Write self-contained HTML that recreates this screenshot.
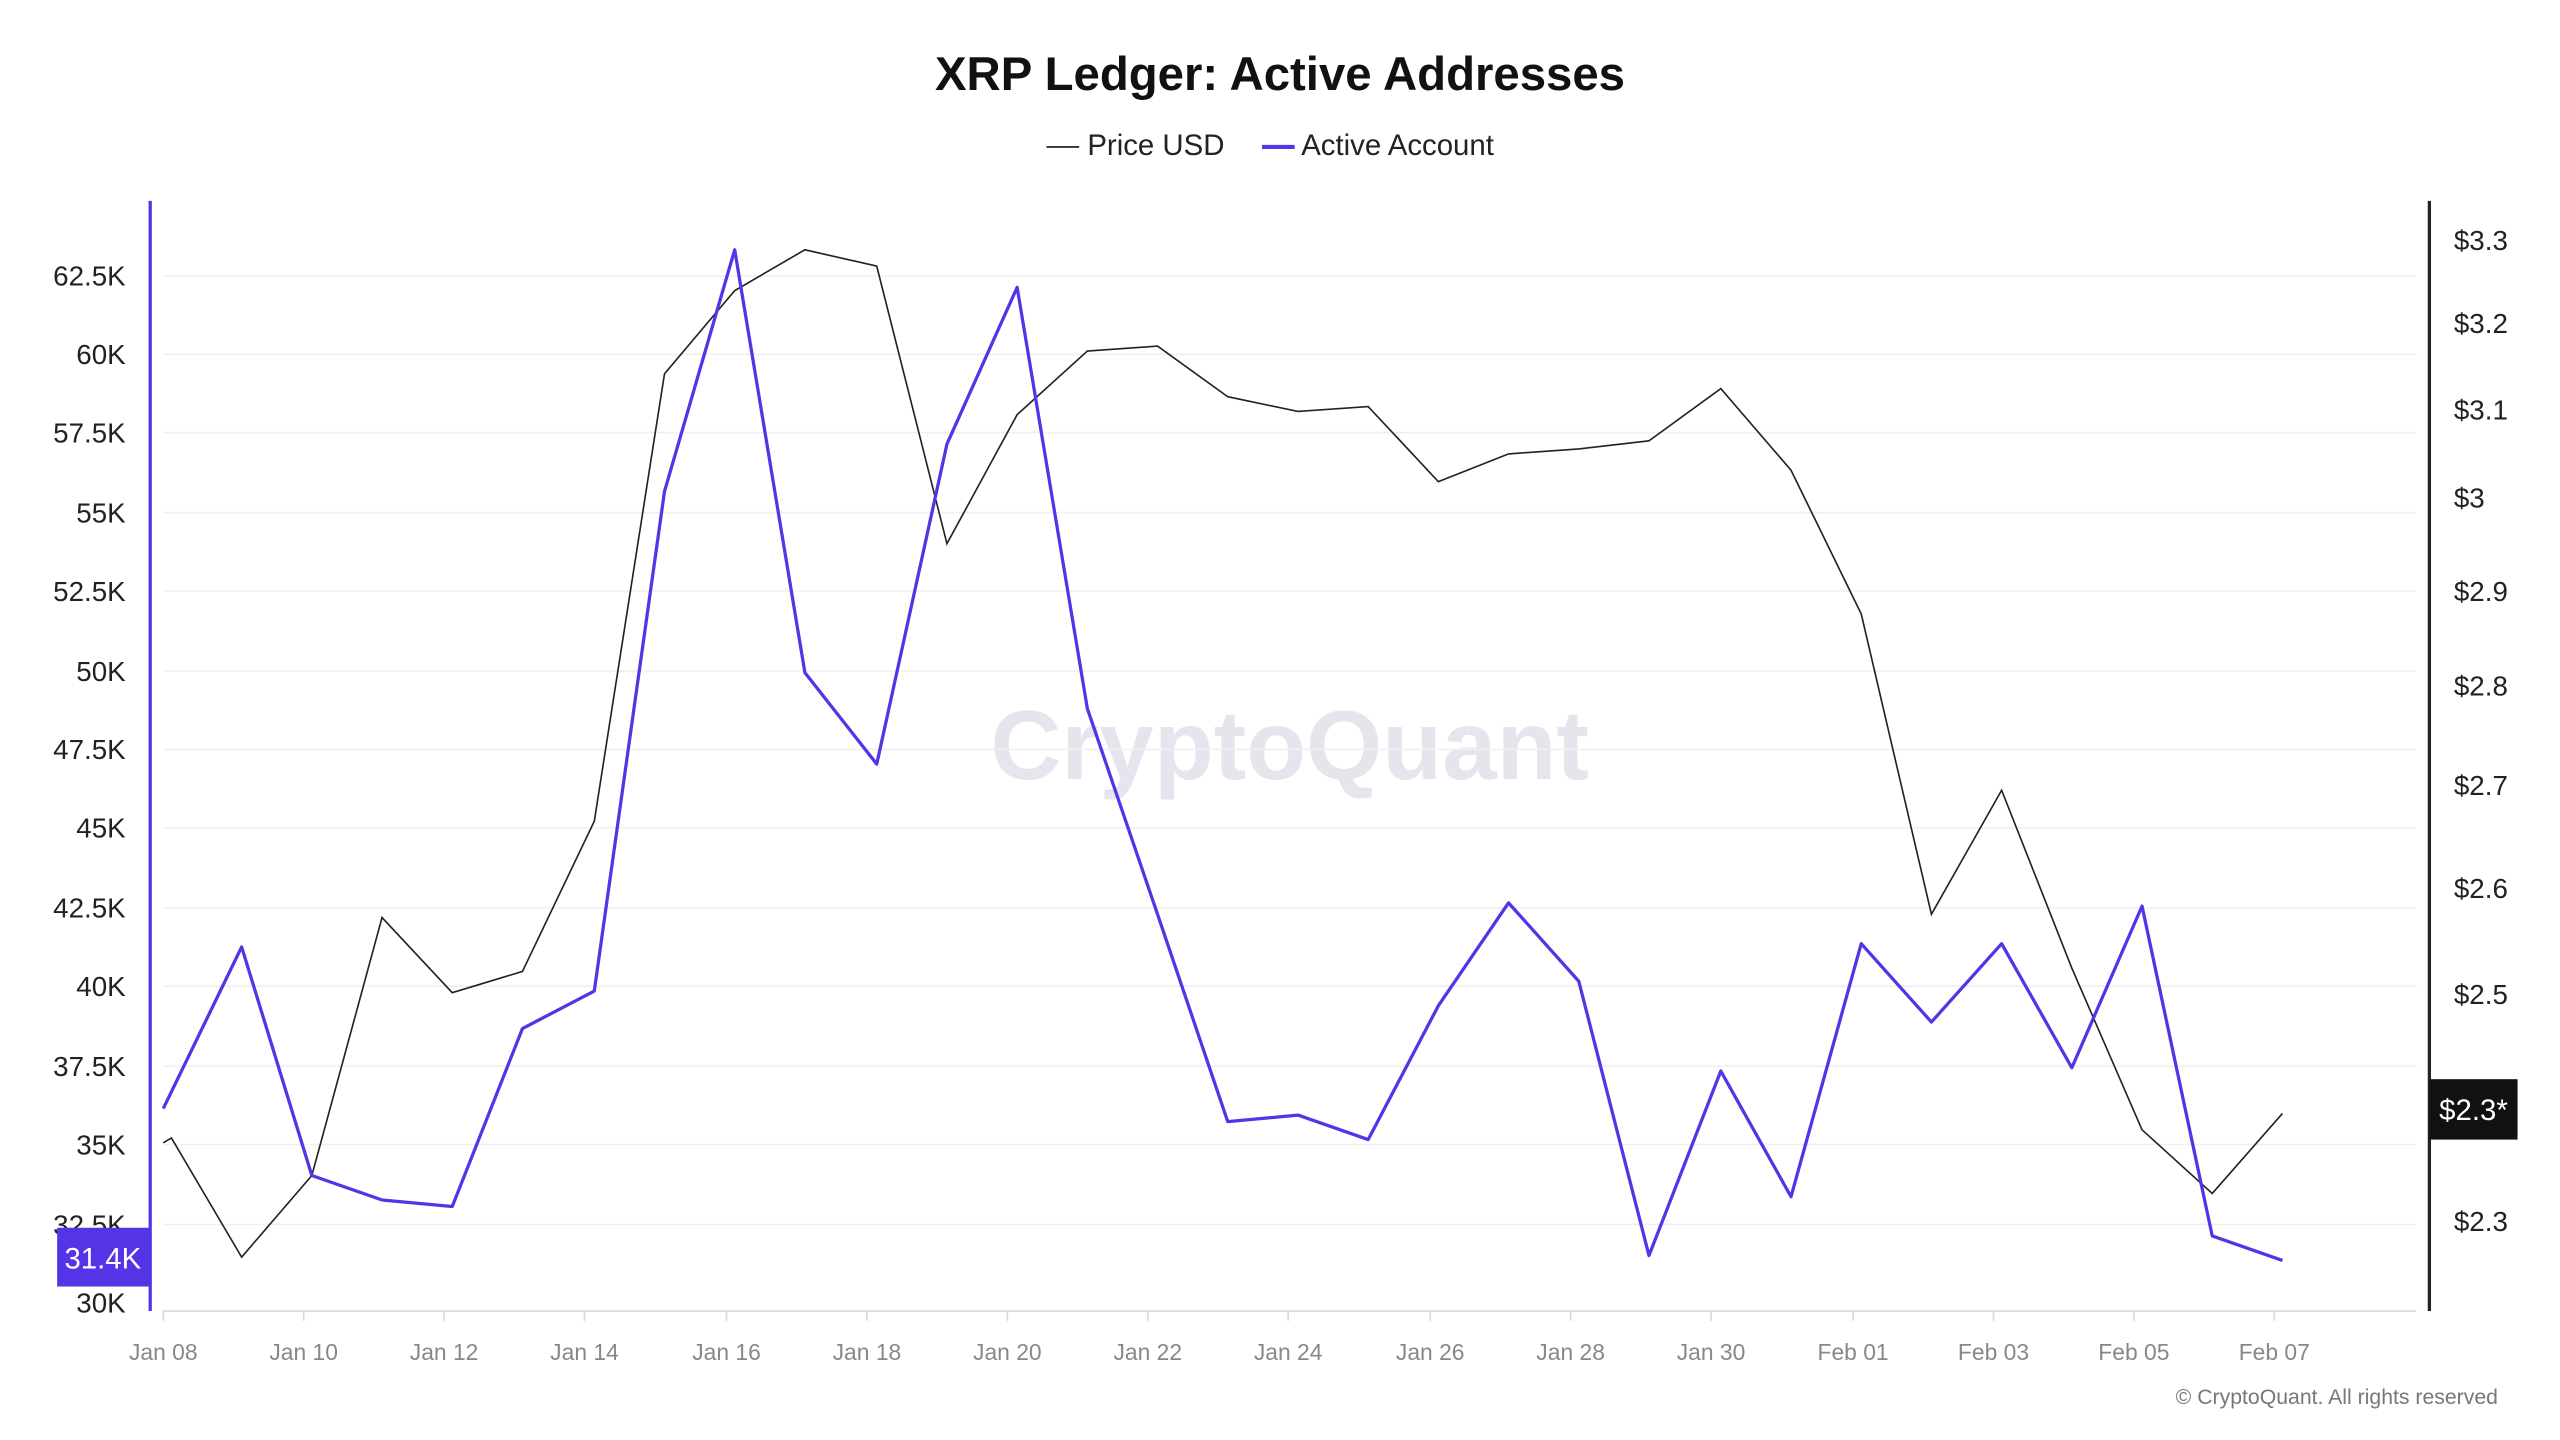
<!DOCTYPE html>
<html><head><meta charset="utf-8"><style>
html,body{margin:0;padding:0;background:#fff;}
svg{display:block;font-family:"Liberation Sans",sans-serif;}
</style></head><body>
<svg width="2560" height="1440" viewBox="0 0 1568 882" xmlns="http://www.w3.org/2000/svg">
<rect width="1568" height="882" fill="#fff"/>
<text x="784" y="55" text-anchor="middle" font-size="29" font-weight="bold" fill="#111">XRP Ledger: Active Addresses</text>
<line x1="641" y1="90" x2="661" y2="90" stroke="#333" stroke-width="1.2"/>
<text x="666" y="95" font-size="18" fill="#222">Price USD</text>
<line x1="773" y1="90" x2="793" y2="90" stroke="#5533e6" stroke-width="2.5"/>
<text x="797" y="95" font-size="18" fill="#222">Active Account</text>
<text x="790" y="477" text-anchor="middle" font-size="60" font-weight="bold" fill="#e6e5ed">CryptoQuant</text>
<g stroke="#f0f0f2" stroke-width="1">
<line x1="100" y1="169" x2="1480" y2="169"/><line x1="100" y1="217" x2="1480" y2="217"/>
<line x1="100" y1="265" x2="1480" y2="265"/><line x1="100" y1="314" x2="1480" y2="314"/>
<line x1="100" y1="362" x2="1480" y2="362"/><line x1="100" y1="411" x2="1480" y2="411"/>
<line x1="100" y1="459" x2="1480" y2="459"/><line x1="100" y1="507" x2="1480" y2="507"/>
<line x1="100" y1="556" x2="1480" y2="556"/><line x1="100" y1="604" x2="1480" y2="604"/>
<line x1="100" y1="653" x2="1480" y2="653"/><line x1="100" y1="701" x2="1480" y2="701"/>
<line x1="100" y1="750" x2="1480" y2="750"/>
</g>
<line x1="100" y1="803" x2="1480" y2="803" stroke="#d8d8e0" stroke-width="1"/>
<g fill="#222" font-size="17" text-anchor="end">
<text x="77" y="175">62.5K</text><text x="77" y="223">60K</text><text x="77" y="271">57.5K</text>
<text x="77" y="320">55K</text><text x="77" y="368">52.5K</text><text x="77" y="417">50K</text>
<text x="77" y="465">47.5K</text><text x="77" y="513">45K</text><text x="77" y="562">42.5K</text>
<text x="77" y="610">40K</text><text x="77" y="659">37.5K</text><text x="77" y="707">35K</text>
<text x="77" y="756">32.5K</text><text x="77" y="804">30K</text>
</g>
<g fill="#222" font-size="17">
<text x="1503" y="153">$3.3</text><text x="1503" y="204">$3.2</text><text x="1503" y="257">$3.1</text>
<text x="1503" y="311">$3</text><text x="1503" y="368">$2.9</text><text x="1503" y="426">$2.8</text>
<text x="1503" y="487">$2.7</text><text x="1503" y="550">$2.6</text><text x="1503" y="615">$2.5</text>
<text x="1503" y="754">$2.3</text>
</g>
<g fill="#888" font-size="14" text-anchor="middle">
<text x="100" y="833">Jan 08</text><text x="186" y="833">Jan 10</text><text x="272" y="833">Jan 12</text>
<text x="358" y="833">Jan 14</text><text x="445" y="833">Jan 16</text><text x="531" y="833">Jan 18</text>
<text x="617" y="833">Jan 20</text><text x="703" y="833">Jan 22</text><text x="789" y="833">Jan 24</text>
<text x="876" y="833">Jan 26</text><text x="962" y="833">Jan 28</text><text x="1048" y="833">Jan 30</text>
<text x="1135" y="833">Feb 01</text><text x="1221" y="833">Feb 03</text><text x="1307" y="833">Feb 05</text>
<text x="1393" y="833">Feb 07</text>
</g>
<g stroke="#d8d8e0" stroke-width="1">
<line x1="100" y1="803" x2="100" y2="809"/><line x1="186" y1="803" x2="186" y2="809"/><line x1="272" y1="803" x2="272" y2="809"/>
<line x1="358" y1="803" x2="358" y2="809"/><line x1="445" y1="803" x2="445" y2="809"/><line x1="531" y1="803" x2="531" y2="809"/>
<line x1="617" y1="803" x2="617" y2="809"/><line x1="703" y1="803" x2="703" y2="809"/><line x1="789" y1="803" x2="789" y2="809"/>
<line x1="876" y1="803" x2="876" y2="809"/><line x1="962" y1="803" x2="962" y2="809"/><line x1="1048" y1="803" x2="1048" y2="809"/>
<line x1="1135" y1="803" x2="1135" y2="809"/><line x1="1221" y1="803" x2="1221" y2="809"/><line x1="1307" y1="803" x2="1307" y2="809"/>
<line x1="1393" y1="803" x2="1393" y2="809"/>
</g>
<polyline fill="none" stroke="#222" stroke-width="1" points="100,700 105,697 148,770 191,720 234,562 277,608 320,595 364,503 407,229 450,178 493,153 537,163 580,333 623,254 666,215 709,212 752,243 795,252 838,249 881,295 924,278 967,275 1010,270 1054,238 1097,288 1140,376 1183,560 1226,484 1269,593 1312,692 1355,731 1398,682"/>
<polyline fill="none" stroke="#5533e6" stroke-width="2" stroke-linejoin="round" points="100,679 148,580 191,720 234,735 277,739 320,630 364,607 407,301 450,153 493,412 537,468 580,272 623,176 666,434 709,560 752,687 795,683 838,698 881,616 924,553 967,601 1010,769 1054,656 1097,733 1140,578 1183,626 1226,578 1269,654 1312,555 1355,757 1398,772"/>
<line x1="92" y1="123" x2="92" y2="803" stroke="#5533e6" stroke-width="2"/>
<line x1="1488" y1="123" x2="1488" y2="803" stroke="#222" stroke-width="2"/>
<rect x="35" y="752" width="57" height="36" fill="#5533e6"/>
<text x="63" y="777" text-anchor="middle" font-size="18" fill="#fff">31.4K</text>
<rect x="1488" y="661" width="54" height="37" fill="#111"/>
<text x="1515" y="686" text-anchor="middle" font-size="18" fill="#fff">$2.3*</text>
<text x="1530" y="860" text-anchor="end" font-size="13" fill="#777">© CryptoQuant. All rights reserved</text>
</svg>
</body></html>
